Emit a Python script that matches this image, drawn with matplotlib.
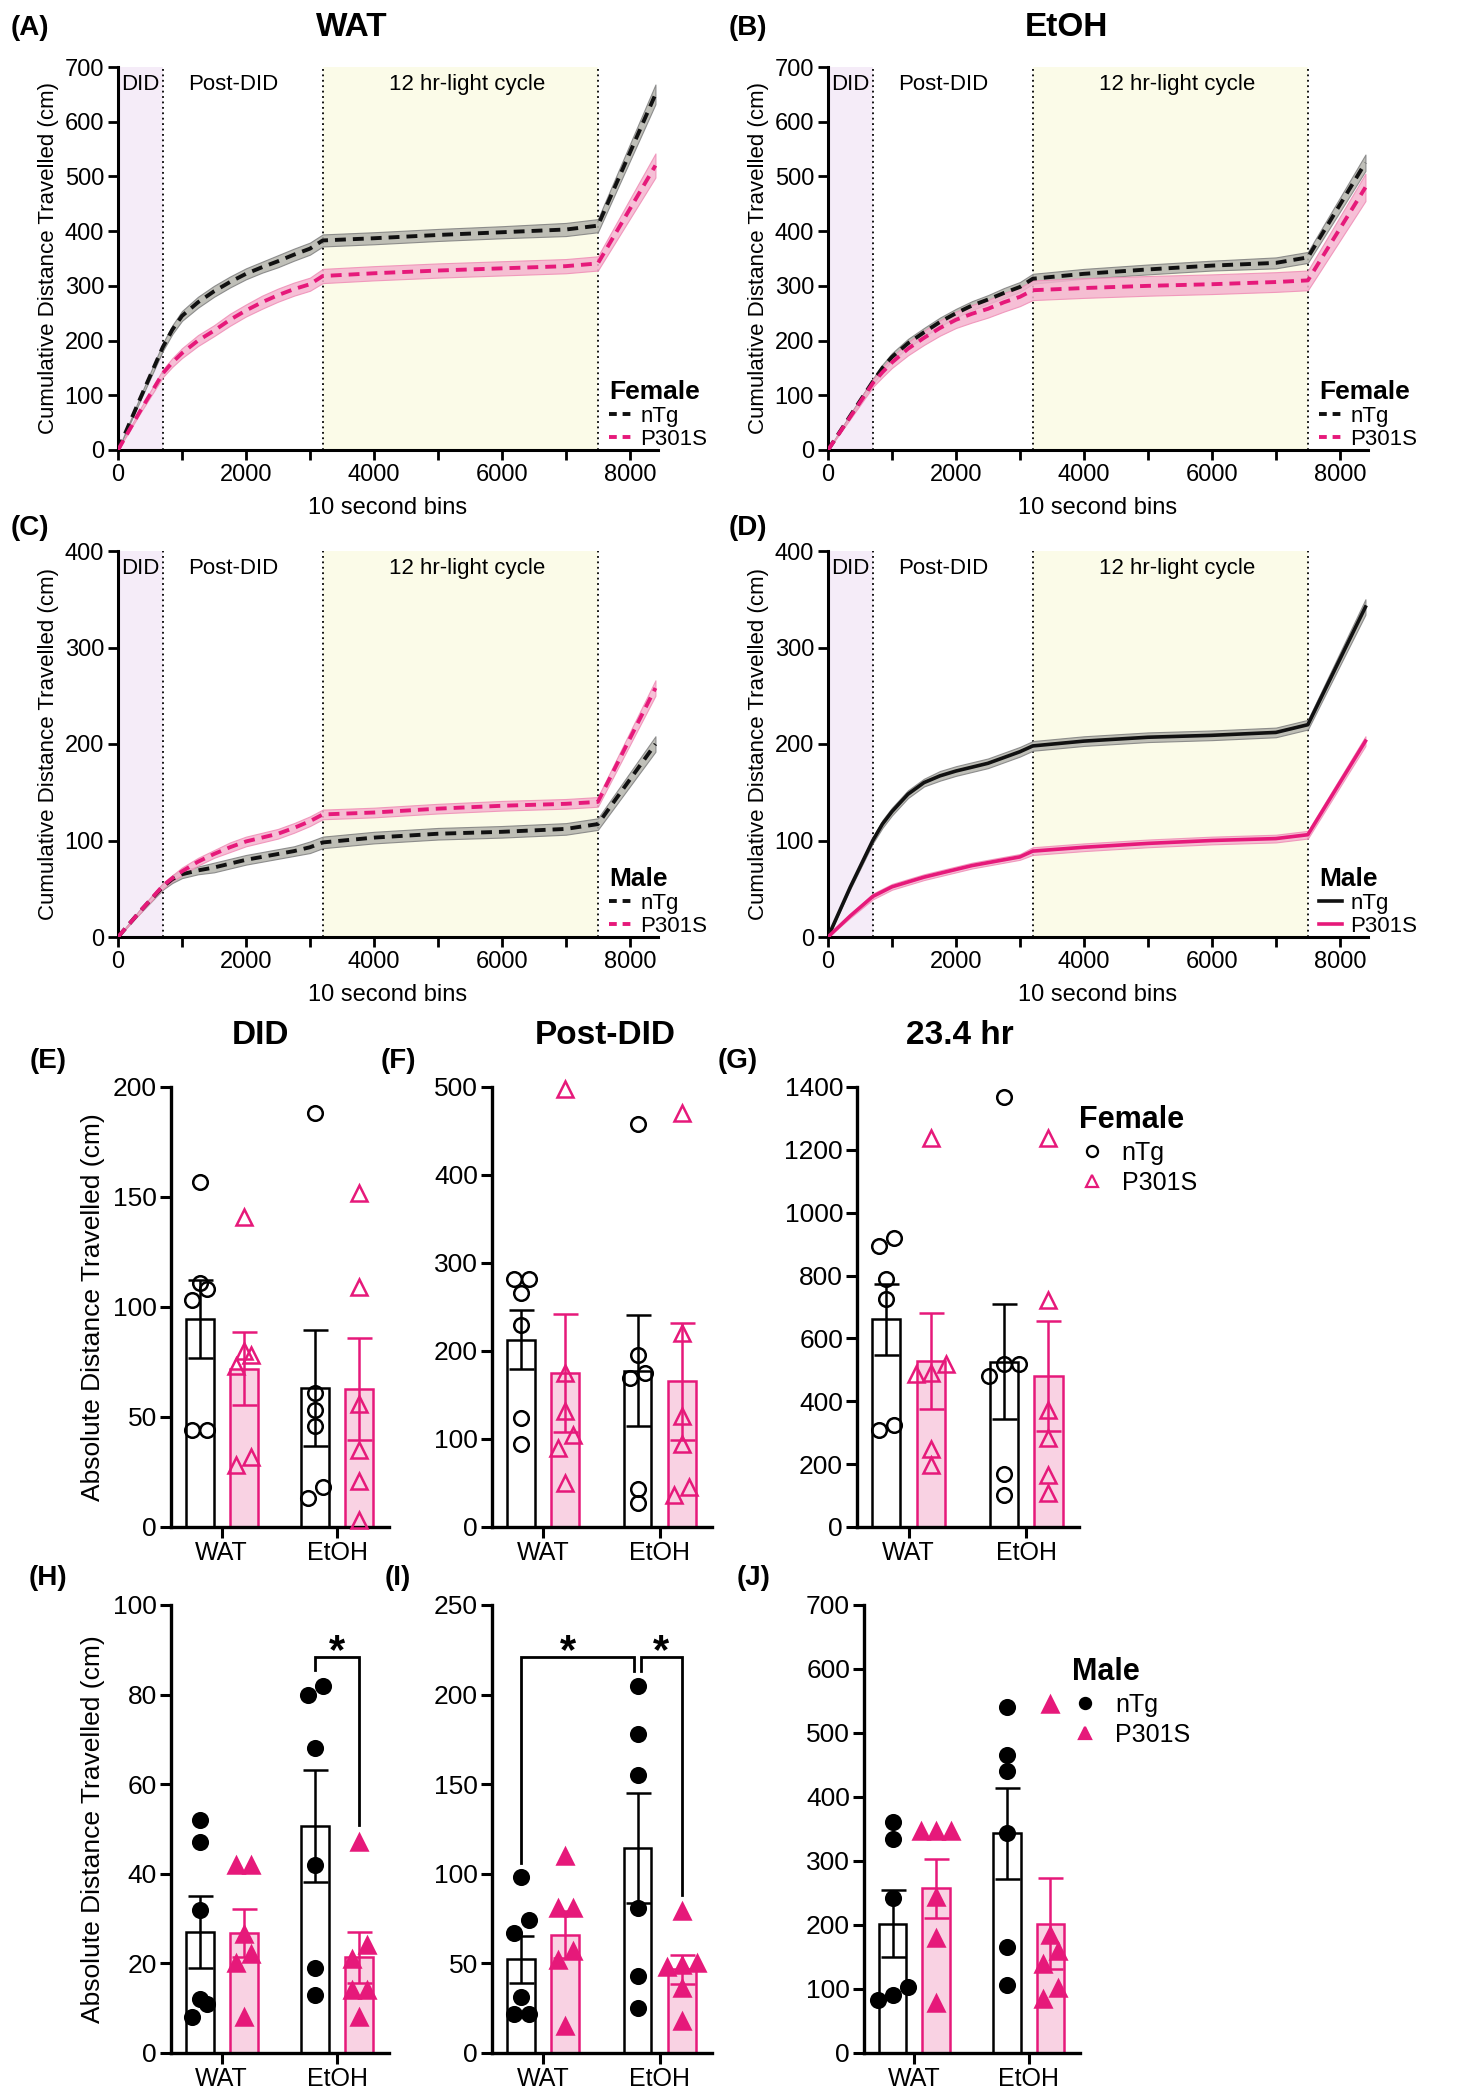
import numpy as np
import matplotlib
matplotlib.use('Agg')
import matplotlib.pyplot as plt
from matplotlib import font_manager
from matplotlib.lines import Line2D

plt.rcParams['font.family'] = ['Liberation Sans', 'DejaVu Sans']
_names = {f.name for f in font_manager.fontManager.ttflist}
NARROW = 'Liberation Sans Narrow' if 'Liberation Sans Narrow' in _names else 'Liberation Sans'

PINK = '#e6197a'
PINK_FILL = '#f9d2e3'
PURPLE = '#f5ecf8'
YELLOW = '#fbfbe8'

# ---------------- cumulative distance (A-D) ----------------
time_bins = [0, 350, 700, 850, 1000, 1250, 1500, 1750, 2000, 2250, 2500, 2750, 3000,
             3200, 4000, 5000, 6000, 7000, 7500, 8400]

a_ntg = [0, 95, 188, 220, 245, 270, 290, 307, 322, 334, 345, 357, 368, 383, 387, 393, 398, 403, 410, 650]
a_ntg_sem = [0, 4, 7, 8, 9, 10, 10, 10, 10, 10, 11, 11, 11, 11, 11, 11, 11, 12, 12, 18]
a_p301s = [0, 72, 140, 160, 177, 200, 218, 238, 255, 270, 283, 294, 303, 318, 323, 328, 332, 336, 341, 520]
a_p301s_sem = [0, 4, 7, 8, 9, 10, 10, 11, 11, 12, 12, 12, 12, 13, 13, 13, 13, 13, 13, 22]

b_ntg = [0, 63, 125, 150, 170, 195, 215, 234, 250, 264, 275, 287, 298, 313, 322, 330, 337, 342, 352, 525]
b_ntg_sem = [0, 3, 5, 6, 7, 8, 8, 8, 8, 8, 8, 9, 9, 9, 9, 9, 9, 10, 10, 15]
b_p301s = [0, 61, 122, 142, 160, 185, 205, 223, 238, 249, 258, 270, 280, 292, 296, 300, 303, 307, 310, 480]
b_p301s_sem = [0, 4, 7, 9, 10, 12, 13, 14, 15, 16, 16, 17, 17, 18, 18, 18, 18, 18, 18, 25]

c_ntg = [0, 27, 52, 60, 65, 69, 72, 76, 80, 83, 86, 89, 93, 98, 103, 107, 109, 112, 117, 200]
c_ntg_sem = [0, 2, 3, 4, 4, 4, 5, 5, 5, 5, 5, 5, 6, 6, 6, 6, 6, 6, 6, 8]
c_p301s = [0, 27, 53, 61, 68, 78, 86, 93, 99, 103, 107, 113, 120, 127, 129, 133, 136, 138, 140, 258]
c_p301s_sem = [0, 2, 3, 3, 4, 4, 4, 5, 5, 5, 5, 5, 5, 5, 5, 5, 5, 5, 5, 8]

d_ntg = [0, 52, 100, 117, 130, 148, 160, 167, 172, 176, 180, 186, 192, 198, 203, 207, 209, 212, 220, 342]
d_ntg_sem = [0, 2, 3, 4, 4, 4, 4, 5, 5, 5, 5, 5, 5, 5, 5, 5, 5, 5, 5, 8]
d_p301s = [0, 22, 42, 47, 52, 57, 62, 66, 70, 74, 77, 80, 83, 89, 93, 97, 100, 102, 106, 203]
d_p301s_sem = [0, 2, 3, 3, 3, 3, 3, 3, 3, 3, 3, 3, 3, 4, 4, 4, 4, 4, 4, 5]

phase_edges = [700, 3200, 7500]
phase_names = ['DID', 'Post-DID', '12 hr-light cycle']

# ---------------- absolute distance (E-J) ----------------
groups = ['WAT', 'EtOH']
e_ntg = [[157, 111, 108, 103, 44, 44], [188, 61, 53, 46, 18, 13]]
e_p301s = [[141, 80, 78, 73, 32, 28], [152, 109, 56, 35, 21, 3]]
f_ntg = [[282, 282, 266, 230, 124, 94], [458, 195, 175, 169, 43, 27]]
f_p301s = [[498, 175, 132, 104, 90, 50], [470, 221, 126, 94, 46, 36]]
g_ntg = [[919, 893, 790, 727, 326, 309], [1369, 518, 518, 482, 170, 102]]
g_p301s = [[1239, 518, 490, 486, 247, 196], [1239, 722, 373, 283, 164, 107]]
h_ntg = [[52, 47, 32, 12, 11, 8], [82, 80, 68, 42, 19, 13]]
h_p301s = [[42, 42, 26.5, 22, 20, 8], [47, 24, 21, 14, 14, 8]]
i_ntg = [[98, 74, 67, 31, 22, 22], [205, 178, 155, 81, 43, 25]]
i_p301s = [[110, 81, 81, 57, 52, 15], [79, 50, 49, 48, 36, 18]]
j_ntg = [[361, 335, 242, 103, 90, 83], [541, 465, 440, 343, 165, 106]]
j_p301s = [[347, 347, 347, 244, 180, 78], [546, 185, 159, 139, 101, 84]]

W, H = 1459, 2100
fig = plt.figure(figsize=(W / 100, H / 100), dpi=100)


def add_ax(l, t, r, b):
    return fig.add_axes([l / W, 1 - b / H, (r - l) / W, (b - t) / H])


def ftext(x, y, s, **kw):
    fig.text(x / W, 1 - y / H, s, ha='center', va='center', **kw)


def style(ax, lw=2.2):
    for s in ['top', 'right']:
        ax.spines[s].set_visible(False)
    for s in ['left', 'bottom']:
        ax.spines[s].set_linewidth(lw)


def line_panel(ax, ntg, ntg_sem, p3, p3_sem, ymax, sex, dashed):
    t = np.array(time_bins)
    ax.axvspan(0, phase_edges[0], color=PURPLE, lw=0, zorder=0)
    ax.axvspan(phase_edges[1], phase_edges[2], color=YELLOW, lw=0, zorder=0)
    for xv in phase_edges:
        ax.axvline(xv, color='k', ls=(0, (1, 2)), lw=1.3, zorder=1)
    series = [(ntg, ntg_sem, '#111111', '#b4b4ac', '#7f7f7f'),
              (p3, p3_sem, PINK, '#f5b4cf', '#ef8db6')]
    handles = []
    for m, s, col, band, edge in series:
        m = np.array(m, float)
        s = np.array(s, float)
        ax.fill_between(t, m - s, m + s, facecolor=band, edgecolor=edge,
                        lw=0.8, alpha=0.85, zorder=2)
        if dashed:
            ax.plot(t, m, color=col, lw=2.8, ls=(0, (2.8, 1.8)), zorder=3)
            handles.append(Line2D([], [], color=col, lw=2.8, ls=(0, (2.0, 1.5))))
        else:
            ax.plot(t, m, color=col, lw=2.6, zorder=3)
            handles.append(Line2D([], [], color=col, lw=2.6))
    ax.set_xlim(0, 8440)
    ax.set_ylim(0, ymax)
    style(ax)
    ax.set_xticks(range(0, 8001, 2000))
    ax.set_xticklabels([str(v) for v in range(0, 8001, 2000)], fontfamily=NARROW, fontsize=17)
    ax.set_xticks(range(1000, 8001, 2000), minor=True)
    yt = list(range(0, ymax + 1, 100))
    ax.set_yticks(yt)
    ax.set_yticklabels([str(v) for v in yt], fontfamily=NARROW, fontsize=17)
    ax.tick_params(which='both', width=2, length=7, pad=3)
    ax.set_xlabel('10 second bins', fontfamily=NARROW, fontsize=17, labelpad=8)
    ax.set_ylabel('Cumulative Distance Travelled (cm)', fontsize=16, labelpad=4)
    centers = [phase_edges[0] / 2, (phase_edges[0] + phase_edges[1]) / 2 - 150,
               (phase_edges[1] + phase_edges[2]) / 2 + 100]
    for cx, name in zip(centers, phase_names):
        ax.text(cx, ymax * 0.955, name, ha='center', va='center',
                fontfamily=NARROW, fontsize=16)
    leg = ax.legend(handles, ['nTg', 'P301S'], title=sex, loc='lower left',
                    bbox_to_anchor=(0.91, 0.0), borderaxespad=0, borderpad=0,
                    frameon=False, handlelength=1.0, handletextpad=0.4,
                    labelspacing=0.1, alignment='left',
                    prop={'family': NARROW, 'size': 16},
                    title_fontproperties={'family': NARROW, 'size': 19, 'weight': 'bold'})
    leg.get_title().set_ha('left')


def swarm(vals, px_x, px_y, diam):
    vals = np.asarray(vals, float)
    order = np.argsort(vals)
    offs = np.zeros(len(vals))
    rows = []
    for i in order:
        if rows and (vals[i] - vals[rows[-1][0]]) * px_y < diam * 0.9:
            rows[-1].append(i)
        else:
            rows.append([i])
    for row in rows:
        k = len(row)
        for j, i in enumerate(row):
            offs[i] = (j - (k - 1) / 2) * diam / px_x
    return offs


BW, OFF = 0.24, 0.19
XL = (-0.44, 1.45)


def bar_panel(ax, ntg, p3, ymax, ystep, filled, ax_px):
    wpx, hpx = ax_px
    px_x = wpx / (XL[1] - XL[0])
    px_y = hpx / ymax
    spec = [(ntg, -OFF, 'black', 'white', 'o', 10.5),
            (p3, OFF, PINK, PINK_FILL, '^', 11.5)]
    for gi in range(len(groups)):
        for data, off, col, face, mk, ms in spec:
            v = np.array(data[gi], float)
            x = gi + off
            mean = v.mean()
            sem = v.std(ddof=1) / np.sqrt(len(v))
            ax.bar(x, mean, width=BW, facecolor=face, edgecolor=col, lw=1.8, zorder=1)
            ax.errorbar(x, mean, yerr=sem, color=col, lw=1.8, capsize=9,
                        capthick=1.8, zorder=2)
            xs = x + swarm(v, px_x, px_y, 15)
            ax.plot(xs, v, ls='none', marker=mk, ms=ms, mec=col, mew=1.8,
                    mfc=(col if filled else 'none'), zorder=3, clip_on=False)
    ax.set_xlim(*XL)
    ax.set_ylim(0, ymax)
    style(ax, 2.4)
    ax.set_xticks(range(len(groups)))
    ax.set_xticklabels(groups, fontsize=18)
    yt = np.arange(0, ymax + 1, ystep)
    ax.set_yticks(yt)
    ax.set_yticklabels([str(int(v)) for v in yt], fontsize=19)
    ax.tick_params(width=2.2, length=8, pad=2)


def bracket(ax, x0, x1, top, y0, y1):
    ax.plot([x0, x0, x1, x1], [y0, top, top, y1], color='k', lw=2, zorder=4,
            solid_joinstyle='miter', clip_on=False)


def star(ax, x, y):
    ax.text(x, y, '*', ha='center', va='baseline', fontsize=30, fontweight='bold')


def bar_legend(ax, sex, filled, anchor):
    hs = [Line2D([], [], ls='none', marker='o', ms=8, mec='black', mew=1.6,
                 mfc=('black' if filled else 'none')),
          Line2D([], [], ls='none', marker='^', ms=8, mec=PINK, mew=1.6,
                 mfc=(PINK if filled else 'none'))]
    leg = ax.legend(hs, ['nTg', 'P301S'], title=sex, loc='upper left',
                    bbox_to_anchor=anchor, borderaxespad=0, borderpad=0,
                    frameon=False, handlelength=1.0, handletextpad=0.7,
                    labelspacing=0.25, alignment='left', prop={'size': 18},
                    title_fontproperties={'size': 22, 'weight': 'bold'})
    leg.get_title().set_ha('left')


# ---------- line panels ----------
axA = add_ax(118, 67, 658, 450)
line_panel(axA, a_ntg, a_ntg_sem, a_p301s, a_p301s_sem, 700, 'Female', True)
axB = add_ax(828, 67, 1368, 450)
line_panel(axB, b_ntg, b_ntg_sem, b_p301s, b_p301s_sem, 700, 'Female', True)
axC = add_ax(118, 551, 658, 937)
line_panel(axC, c_ntg, c_ntg_sem, c_p301s, c_p301s_sem, 400, 'Male', True)
axD = add_ax(828, 551, 1368, 937)
line_panel(axD, d_ntg, d_ntg_sem, d_p301s, d_p301s_sem, 400, 'Male', False)

# ---------- bar panels ----------
boxes = {'E': (171, 1087, 389, 1527), 'F': (492, 1087, 712, 1527),
         'G': (857, 1087, 1079, 1527), 'H': (171, 1605, 389, 2053),
         'I': (492, 1605, 712, 2053), 'J': (864, 1605, 1080, 2053)}
bar_specs = {'E': (e_ntg, e_p301s, 200, 50, False), 'F': (f_ntg, f_p301s, 500, 100, False),
             'G': (g_ntg, g_p301s, 1400, 200, False), 'H': (h_ntg, h_p301s, 100, 20, True),
             'I': (i_ntg, i_p301s, 250, 50, True), 'J': (j_ntg, j_p301s, 700, 100, True)}
bax = {}
for key, (l, t, r, b) in boxes.items():
    ax = add_ax(l, t, r, b)
    ntg, p3, ymax, ystep, filled = bar_specs[key]
    bar_panel(ax, ntg, p3, ymax, ystep, filled, (r - l, b - t))
    bax[key] = ax

for key in ['E', 'H']:
    bax[key].set_ylabel('Absolute Distance Travelled (cm)', fontsize=19, labelpad=6)

bar_legend(bax['G'], 'Female', False, (1.0, 0.96))
bar_legend(bax['J'], 'Male', True, (0.965, 0.885))

# significance
bracket(bax['H'], 1 - OFF, 1 + OFF, 88.5, 85.5, 51)
star(bax['H'], 1, 87)
bracket(bax['I'], -OFF, 1 - OFF - 0.03, 221, 106, 213)
star(bax['I'], 0.4 - OFF, 217.5)
bracket(bax['I'], 1 - OFF + 0.03, 1 + OFF, 221, 213, 88)
star(bax['I'], 1 + 0.015, 217.5)

# ---------- titles and panel letters ----------
ftext(352, 27, 'WAT', fontsize=24, fontweight='bold')
ftext(1066, 27, 'EtOH', fontsize=24, fontweight='bold')
ftext(260, 1035, 'DID', fontsize=24, fontweight='bold')
ftext(605, 1035, 'Post-DID', fontsize=24, fontweight='bold')
ftext(960, 1035, '23.4 hr', fontsize=24, fontweight='bold')
for lab, x, y in [('(A)', 30, 28), ('(B)', 748, 28), ('(C)', 30, 528), ('(D)', 748, 528),
                  ('(E)', 48, 1061), ('(F)', 398, 1061), ('(G)', 738, 1061),
                  ('(H)', 48, 1578), ('(I)', 398, 1578), ('(J)', 754, 1578)]:
    ftext(x, y, lab, fontsize=20, fontweight='bold')

fig.savefig('out.png', dpi=100)
